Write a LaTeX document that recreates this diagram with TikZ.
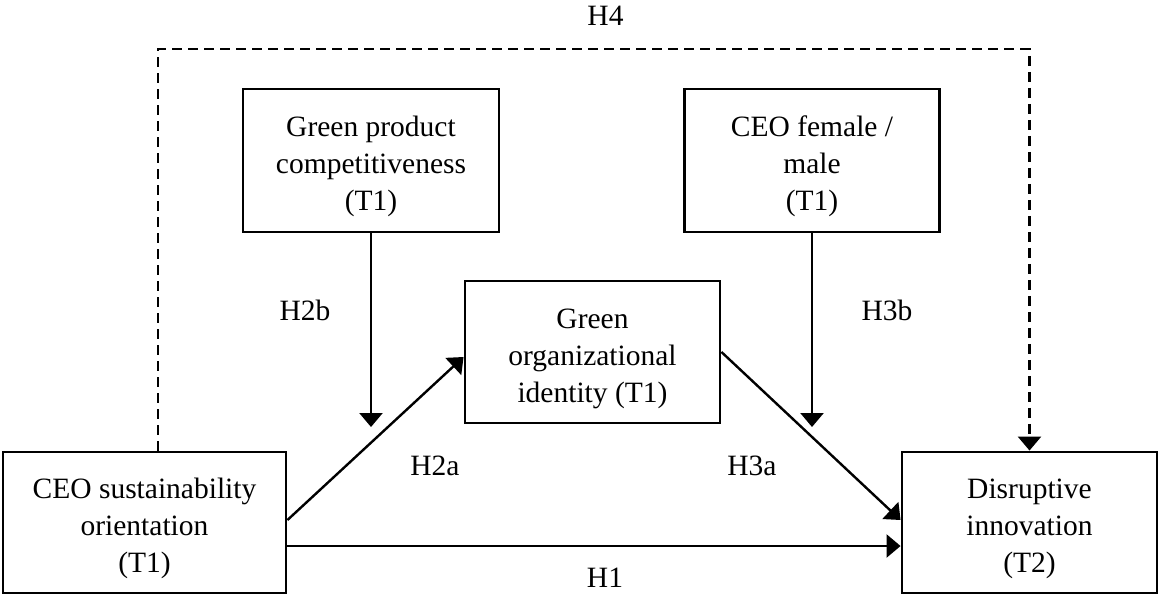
\documentclass[tikz,border=0pt]{standalone}
\usepackage{fontspec}
\setmainfont{Liberation Serif}
\usetikzlibrary{arrows.meta}
\newcommand{\topstr}{\rule{0pt}{33pt}}
\newcommand{\botstr}{\rule[-7pt]{0pt}{7pt}}
\begin{document}
\begin{tikzpicture}[x=1pt,y=-1pt,
  box/.style={draw, line width=2.9pt, inner sep=0pt, align=center,
    font=\fontsize{29.5}{37}\selectfont},
  lab/.style={anchor=base, inner sep=0pt, font=\fontsize{29.5}{36}\selectfont},
  arr/.style={line width=2.4pt, -{Triangle[length=14pt,width=23pt]}},
  dsh/.style={line width=2.6pt, dash pattern=on 10pt off 6pt, -{Triangle[length=14pt,width=23pt]}}]
\useasboundingbox (0,0) rectangle (1158,595);
\node[box, minimum width=283pt, minimum height=141pt] (ceo) at (144.5,522.5) {\topstr CEO sustainability\\orientation\\(T1)\botstr};
\node[box, minimum width=255pt, minimum height=141pt] (dis) at (1029.5,522.5) {\topstr Disruptive\\innovation\\(T2)\botstr};
\node[box, minimum width=256pt, minimum height=143pt] (gpc) at (371,160.5) {\topstr Green product\\competitiveness\\(T1)\botstr};
\node[box, minimum width=255pt, minimum height=143pt] (fem) at (812,160.5) {\topstr CEO female /\\male\\(T1)\botstr};
\node[box, minimum width=255pt, minimum height=142pt] (goi) at (592.5,352) {\topstr Green\\organizational\\identity (T1)\botstr};
\coordinate (h2bend) at (371,427);
\coordinate (h3bend) at (812,427);
\coordinate (h4c) at (600,49);
\draw[arr] (gpc.south) -- (h2bend);
\draw[arr] (fem.south) -- (h3bend);
\draw[arr] ([yshift=2.5pt]ceo.east) -- ([yshift=-5pt]goi.west);
\draw[arr] (goi.east) -- ([yshift=2.5pt]dis.west);
\draw[arr] ([yshift=-23.5pt]ceo.east) -- ([yshift=-23.5pt]dis.west);
\draw[dsh] ([xshift=13.5pt]ceo.north) |- (h4c) -| (dis.north);
\node[lab] (l4) at (605.5,25) {H4};
\node[lab] (l2b) at (305,320) {H2b};
\node[lab] (l3b) at (887,320) {H3b};
\node[lab] (l2a) at (435,475) {H2a};
\node[lab] (l3a) at (752,475) {H3a};
\node[lab] (l1) at (605,587) {H1};
\end{tikzpicture}
\end{document}
